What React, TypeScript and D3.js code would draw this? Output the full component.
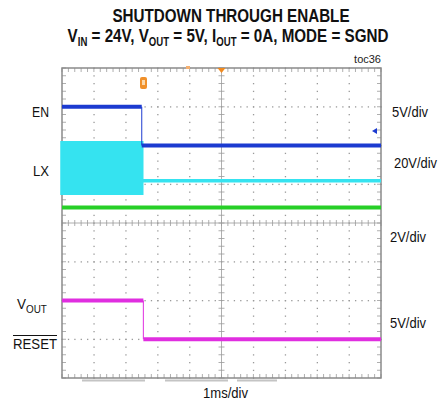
import React from 'react';
import * as d3 from 'd3';

// ---- data (time in ms, 1 ms/div, trigger at center) ----
const enTime = [-5, -2.5, -2.5, 5];
const enVolts = [5, 5, 0, 0];
const lxTime = [-5, -2.5, -2.5, 5];
const lxMax = [26, 26, 6.4, 6.4];
const lxMin = [0, 0, 6.4, 6.4];
const ch3Time = [-5, 5];
const ch3Volts = [0, 0];
const voutTime = [-5, -2.45, -2.45, 5];
const voutVolts = [5, 5, 0, 0];

// channel settings: ground offset (divisions from center) and volts/div
const channels = {
  en: { offset: 2, vdiv: 5, color: '#1c3bd0' },
  lx: { offset: 0.77, vdiv: 20, color: '#35e3f0' },
  ch3: { offset: 0.4, vdiv: 2, color: '#27cf27' },
  vout: { offset: -3, vdiv: 5, color: '#e02ee0' },
};

const leftLabels = ['EN', 'LX'];
const rightLabels = ['5V/div', '20V/div', '2V/div', '5V/div'];
const timeLabel = '1ms/div';

const W = 440;
const H = 406;
const L = 62, R = 381, T = 68, B = 378;
const FONT = "'Liberation Sans', Arial, sans-serif";

export default function App() {
  const x = d3.scaleLinear().domain([-5, 5]).range([L, R]);
  const yd = d3.scaleLinear().domain([-4, 4]).range([B, T]);
  const yCh = (ch: { offset: number; vdiv: number }) => (v: number) => yd(ch.offset + v / ch.vdiv);

  // split a step trace into thick horizontal runs and thin vertical edges
  const trace = (ts: number[], vs: number[], ch: any, key: string) => {
    const y = yCh(ch);
    const out: any[] = [];
    for (let i = 0; i < ts.length - 1; i++) {
      const vertical = ts[i] === ts[i + 1];
      const d = d3.line<[number, number]>()([
        [x(ts[i]), y(vs[i])],
        [x(ts[i + 1]), y(vs[i + 1])],
      ]) || '';
      out.push(
        <path key={`${key}${i}`} d={d} fill="none" stroke={ch.color} strokeWidth={vertical ? 1 : 4} />
      );
    }
    return out;
  };

  const lxArea =
    d3
      .area<number>()
      .x((_, i) => x(lxTime[i]))
      .y0((_, i) => yCh(channels.lx)(lxMin[i]))
      .y1((_, i) => yCh(channels.lx)(lxMax[i]))(lxTime) || '';

  const gridX = d3.range(-4, 5, 1);
  const gridY = d3.range(-3, 4, 1);
  const minorX = d3.range(-5, 5.001, 0.2);
  const minorY = d3.range(-4, 4.001, 0.2);
  const gc = '#9a9a9a';

  return (
    <svg width={W} height={H} style={{ display: 'block', position: 'absolute', left: 0, top: 0 }}>
      <rect width={W} height={H} fill="#fff" />
      {/* title */}
      <g transform="translate(231,22) scale(0.8,1)">
        <text x={0} y={0} textAnchor="middle" fontFamily={FONT} fontWeight="bold" fontSize={19} fill="#111">
          SHUTDOWN THROUGH ENABLE
        </text>
      </g>
      <g transform="translate(228,42) scale(0.8,1)">
        <text x={0} y={0} textAnchor="middle" fontFamily={FONT} fontWeight="bold" fontSize={19} fill="#111">
          V<tspan fontSize={12} dy={4}>IN</tspan>
          <tspan dy={-4}> = 24V, V</tspan>
          <tspan fontSize={12} dy={4}>OUT</tspan>
          <tspan dy={-4}> = 5V, I</tspan>
          <tspan fontSize={12} dy={4}>OUT</tspan>
          <tspan dy={-4}> = 0A, MODE = SGND</tspan>
        </text>
      </g>
      <text x={381} y={63} textAnchor="end" fontFamily={FONT} fontSize={11} fill="#222">toc36</text>

      {/* graticule dotted grid */}
      <g>
        {gridX.filter((g) => g !== 0).map((g) =>
          minorY.map((m, j) => (
            <rect key={`gx${g}-${j}`} x={x(g) - 0.5} y={yd(m) - 0.5} width={1.3} height={1.3} fill={gc} />
          ))
        )}
        {gridY.filter((g) => g !== 0).map((g) =>
          minorX.map((m, j) => (
            <rect key={`gy${g}-${j}`} x={x(m) - 0.5} y={yd(g) - 0.5} width={1.3} height={1.3} fill={gc} />
          ))
        )}
        {/* center lines with ticks */}
        <line x1={L} x2={R} y1={yd(0)} y2={yd(0)} stroke={gc} strokeWidth={0.8} />
        <line x1={x(0)} x2={x(0)} y1={T} y2={B} stroke={gc} strokeWidth={0.8} />
        {minorX.map((m, j) => (
          <line key={`cx${j}`} x1={x(m)} x2={x(m)} y1={yd(0) - 3} y2={yd(0) + 3} stroke={gc} strokeWidth={0.8} />
        ))}
        {minorY.map((m, j) => (
          <line key={`cy${j}`} x1={x(0) - 3} x2={x(0) + 3} y1={yd(m)} y2={yd(m)} stroke={gc} strokeWidth={0.8} />
        ))}
        {/* border ticks */}
        {minorX.map((m, j) => (
          <g key={`bx${j}`}>
            <line x1={x(m)} x2={x(m)} y1={T} y2={T + 4} stroke={gc} strokeWidth={0.8} />
            <line x1={x(m)} x2={x(m)} y1={B} y2={B - 4} stroke={gc} strokeWidth={0.8} />
          </g>
        ))}
        {minorY.map((m, j) => (
          <g key={`by${j}`}>
            <line x1={L} x2={L + 4} y1={yd(m)} y2={yd(m)} stroke={gc} strokeWidth={0.8} />
            <line x1={R} x2={R - 4} y1={yd(m)} y2={yd(m)} stroke={gc} strokeWidth={0.8} />
          </g>
        ))}
        <rect x={L} y={T} width={R - L} height={B - T} fill="none" stroke="#8a8a8a" strokeWidth={1.5} />
      </g>

      {/* bottom gray bars */}
      <line x1={82} x2={145} y1={380.5} y2={380.5} stroke="#c4c4c4" strokeWidth={2} />
      <line x1={165} x2={228} y1={380.5} y2={380.5} stroke="#c4c4c4" strokeWidth={2} />
      <line x1={237} x2={277} y1={380.5} y2={380.5} stroke="#c4c4c4" strokeWidth={2} />

      {/* traces */}
      <path d={lxArea} fill={channels.lx.color} stroke={channels.lx.color} strokeWidth={3.5} />
      {trace(ch3Time, ch3Volts, channels.ch3, 'c3')}
      {trace(enTime, enVolts, channels.en, 'en')}
      {trace(voutTime, voutVolts, channels.vout, 'vo')}

      {/* markers */}
      <rect x={140} y={77} width={7} height={12} rx={2} fill="#f0902a" />
      <rect x={142} y={80} width={3} height={5} fill="#fbd7a8" />
      <path d={`M${x(0) - 4},${T} L${x(0) + 4},${T} L${x(0)},${T + 5} Z`} fill="#f08a20" />
      <rect x={186} y={66} width={4} height={3} fill="#f5b070" />
      <path d="M372,131 L377,128 L377,134 Z" fill={channels.en.color} />

      {/* left labels */}
      <text x={32} y={117} textLength={17} lengthAdjust="spacingAndGlyphs" fontFamily={FONT} fontSize={15} fill="#111">{leftLabels[0]}</text>
      <text x={33} y={176} textLength={16} lengthAdjust="spacingAndGlyphs" fontFamily={FONT} fontSize={15} fill="#111">{leftLabels[1]}</text>
      <g transform="translate(17,309) scale(0.9,1)">
        <text x={0} y={0} fontFamily={FONT} fontSize={15} fill="#111">
          V<tspan fontSize={11} dy={4}>OUT</tspan>
        </text>
      </g>
      <text x={13} y={349} textLength={44} lengthAdjust="spacingAndGlyphs" fontFamily={FONT} fontSize={15} fill="#111">RESET</text>
      <line x1={13} x2={57} y1={335.5} y2={335.5} stroke="#111" strokeWidth={1} />

      {/* right labels */}
      <text x={392} y={117} textLength={36} lengthAdjust="spacingAndGlyphs" fontFamily={FONT} fontSize={14} fill="#111">{rightLabels[0]}</text>
      <text x={394} y={168} textLength={43} lengthAdjust="spacingAndGlyphs" fontFamily={FONT} fontSize={14} fill="#111">{rightLabels[1]}</text>
      <text x={390} y={242} textLength={36} lengthAdjust="spacingAndGlyphs" fontFamily={FONT} fontSize={14} fill="#111">{rightLabels[2]}</text>
      <text x={390} y={328} textLength={36} lengthAdjust="spacingAndGlyphs" fontFamily={FONT} fontSize={14} fill="#111">{rightLabels[3]}</text>

      <text x={203} y={398} textLength={45} lengthAdjust="spacingAndGlyphs" fontFamily={FONT} fontSize={15} fill="#111">{timeLabel}</text>
    </svg>
  );
}
